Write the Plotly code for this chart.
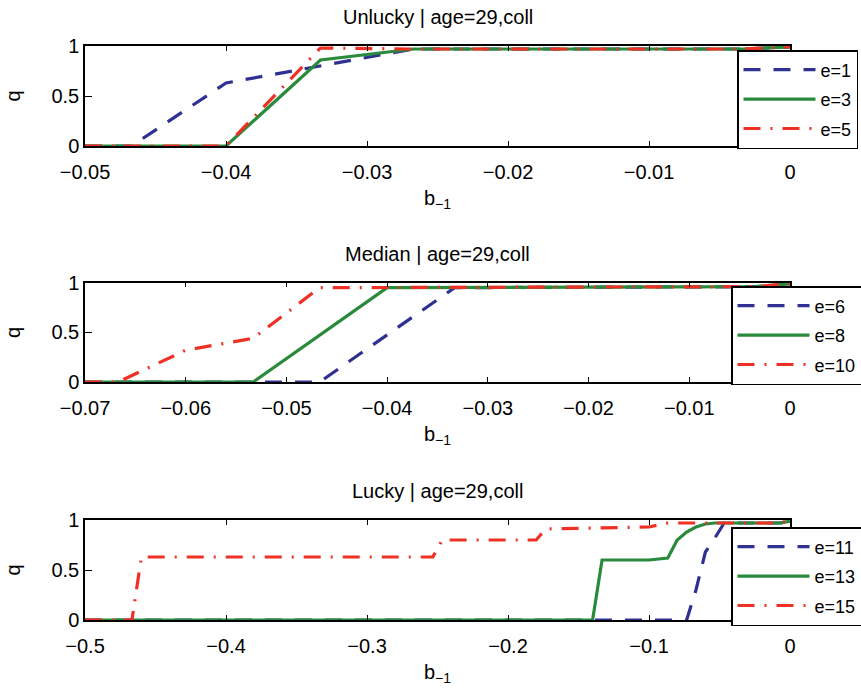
import plotly.graph_objects as go

# ---------------- data ----------------
panel_titles = ["Unlucky | age=29,coll", "Median | age=29,coll", "Lucky | age=29,coll"]
x_ranges = [[-0.05, 0.0], [-0.07, 0.0], [-0.5, 0.0]]
x_dticks = [0.01, 0.01, 0.1]

# Panel 1 (Unlucky)
p1_e1_x = [-0.05, -0.0467, -0.04, -0.0333, -0.0267, -0.0033, 0.0]
p1_e1_q = [0.0, 0.0, 0.63, 0.80, 0.97, 0.97, 0.99]
p1_e3_x = [-0.05, -0.04, -0.0333, -0.0267, -0.0033, 0.0]
p1_e3_q = [0.0, 0.0, 0.86, 0.97, 0.97, 0.99]
p1_e5_x = [-0.05, -0.04, -0.0333, -0.0267, -0.0033, 0.0]
p1_e5_q = [0.0, 0.0, 0.98, 0.97, 0.97, 0.99]

# Panel 2 (Median)
p2_e6_x = [-0.07, -0.0467, -0.0333, -0.0033, 0.0]
p2_e6_q = [0.0, 0.0, 0.95, 0.96, 0.99]
p2_e8_x = [-0.07, -0.0533, -0.04, -0.0033, 0.0]
p2_e8_q = [0.0, 0.0, 0.95, 0.96, 0.99]
p2_e10_x = [-0.07, -0.0667, -0.06, -0.0533, -0.0467, -0.0033, 0.0]
p2_e10_q = [0.0, 0.0, 0.32, 0.44, 0.95, 0.96, 0.99]

# Panel 3 (Lucky)
p3_e11_x = [-0.5, -0.0733, -0.0667, -0.06, -0.0533, -0.0467, -0.0067, 0.0]
p3_e11_q = [0.0, 0.0, 0.30, 0.68, 0.82, 0.97, 0.97, 0.99]
p3_e13_x = [-0.5, -0.14, -0.1333, -0.1, -0.0867, -0.08, -0.0733, -0.0667, -0.06, -0.0533, -0.0067, 0.0]
p3_e13_q = [0.0, 0.0, 0.60, 0.60, 0.62, 0.80, 0.88, 0.93, 0.96, 0.97, 0.97, 0.99]
p3_e15_x = [-0.5, -0.4667, -0.46, -0.2533, -0.2467, -0.18, -0.1733, -0.1, -0.0867, -0.0067, 0.0]
p3_e15_q = [0.0, 0.0, 0.63, 0.63, 0.80, 0.80, 0.91, 0.93, 0.97, 0.97, 1.0]

panels = [
    [("e=1", p1_e1_x, p1_e1_q), ("e=3", p1_e3_x, p1_e3_q), ("e=5", p1_e5_x, p1_e5_q)],
    [("e=6", p2_e6_x, p2_e6_q), ("e=8", p2_e8_x, p2_e8_q), ("e=10", p2_e10_x, p2_e10_q)],
    [("e=11", p3_e11_x, p3_e11_q), ("e=13", p3_e13_x, p3_e13_q), ("e=15", p3_e15_x, p3_e15_q)],
]

# ---------------- styling ----------------
W, H = 861, 690
ML, MR, MT, MB = 85, 71, 46, 70
plot_h = H - MT - MB
box_tops = [46, 282.7, 520]
box_bots = [146, 382, 620]
legend_px = [(737, 50), (731, 286), (731, 527)]

colors = ["#2e3192", "#2a8a3c", "#ee3124"]
dashes = ["17px,13px", "solid", "17px,10px,2px,10px"]
FONT = "Liberation Sans, Arial, sans-serif"

def py2paper(py):
    return (H - MB - py) / plot_h

fig = go.Figure()
layout = dict(
    width=W, height=H,
    margin=dict(l=ML, r=MR, t=MT, b=MB, autoexpand=False),
    paper_bgcolor="white", plot_bgcolor="white",
    font=dict(family=FONT, size=20, color="black"),
    showlegend=True,
    annotations=[],
)

for i, series in enumerate(panels):
    n = "" if i == 0 else str(i + 1)
    leg = "legend" if i == 0 else f"legend{i + 1}"
    for j, (name, xs, qs) in enumerate(series):
        fig.add_trace(go.Scatter(
            x=xs, y=qs, mode="lines", name=name,
            line=dict(color=colors[j], width=3.2, dash=dashes[j]),
            xaxis=f"x{n}", yaxis=f"y{n}", legend=leg,
            legendgroup=f"g{i}_{j}",
        ))
    dom = [py2paper(box_bots[i]), py2paper(box_tops[i])]
    layout[f"xaxis{n}"] = dict(
        range=x_ranges[i], dtick=x_dticks[i], tick0=0,
        showline=True, linecolor="black", linewidth=1.5, mirror="ticks",
        ticks="inside", ticklen=5, tickcolor="black", tickwidth=1,
        showgrid=False, zeroline=False, anchor=f"y{n}",
        ticklabelstandoff=7,
        tickfont=dict(size=20, family=FONT, color="black"),
        title=dict(text="b<sub>−1</sub>", font=dict(size=20, family=FONT), standoff=9),
    )
    layout[f"yaxis{n}"] = dict(
        domain=dom, range=[0, 1], tickvals=[0, 0.5, 1], ticktext=["0", "0.5", "1"],
        showline=True, linecolor="black", linewidth=1.5, mirror="ticks",
        ticks="inside", ticklen=7, tickcolor="black", tickwidth=1,
        showgrid=False, zeroline=False, anchor=f"x{n}",
        tickfont=dict(size=20, family=FONT, color="black"),
        title=dict(text="q", font=dict(size=20, family=FONT), standoff=25),
    )
    lx, ly = legend_px[i]
    layout[leg] = dict(
        x=(lx - ML) / (W - ML - MR), y=py2paper(ly), xanchor="left", yanchor="top",
        bordercolor="black", borderwidth=1.5, bgcolor="white",
        font=dict(size=18, family=FONT, color="black"),
        itemwidth=72, tracegroupgap=3, entrywidth=70,
    )
    layout["annotations"].append(dict(
        text=panel_titles[i], xref="paper", yref="paper",
        x=0.5, y=py2paper(box_tops[i] - 29), xanchor="center", yanchor="middle",
        showarrow=False, font=dict(size=20, family=FONT, color="black"),
    ))

fig.update_layout(**layout)
fig.write_html("out.html")
